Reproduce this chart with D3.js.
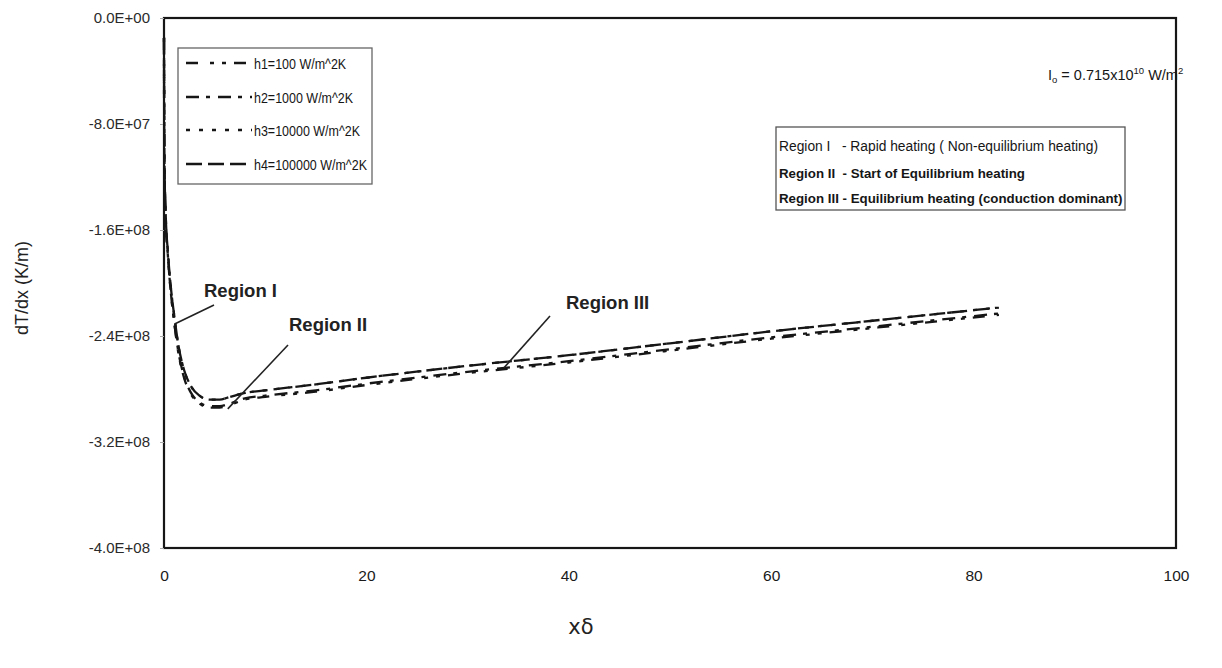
<!DOCTYPE html>
<html>
<head>
<meta charset="utf-8">
<script src="https://cdn.jsdelivr.net/npm/d3@7"></script>
<style>
  html, body { margin: 0; padding: 0; background: #fff; }
  svg { display: block; font-family: Arial, "Liberation Sans", sans-serif; }
</style>
</head>
<body>
<svg id="chart" width="1222" height="668"></svg>
<script>
// Sampling positions along the depth axis (xδ)
const xs = [0, 0.02, 0.05, 0.15, 0.4, 0.7, 1.0, 1.4, 2.0, 2.6, 3.5, 4.5, 5.5, 6.5, 8, 10, 15, 20, 30, 40, 50, 60, 70, 82.5];

// Temperature gradient dT/dx (K/m) for each convection coefficient
const h1 = [-1.5e7, -8.0e7, -1.12e8, -1.46e8, -1.81e8, -2.09e8, -2.29e8, -2.52e8, -2.72e8, -2.83e8, -2.91e8, -2.94e8, -2.94e8, -2.92e8, -2.88e8, -2.86e8, -2.82e8, -2.77e8, -2.68e8, -2.60e8, -2.51e8, -2.42e8, -2.34e8, -2.24e8];
const h2 = [-1.5e7, -8.0e7, -1.12e8, -1.46e8, -1.81e8, -2.09e8, -2.29e8, -2.51e8, -2.71e8, -2.82e8, -2.90e8, -2.93e8, -2.93e8, -2.91e8, -2.87e8, -2.85e8, -2.81e8, -2.76e8, -2.67e8, -2.59e8, -2.50e8, -2.41e8, -2.33e8, -2.23e8];
const h3 = [-1.5e7, -7.8e7, -1.10e8, -1.44e8, -1.78e8, -2.05e8, -2.24e8, -2.46e8, -2.66e8, -2.77e8, -2.85e8, -2.88e8, -2.88e8, -2.86e8, -2.83e8, -2.81e8, -2.765e8, -2.715e8, -2.625e8, -2.545e8, -2.455e8, -2.365e8, -2.285e8, -2.185e8];
const h4 = [-1.5e7, -7.8e7, -1.10e8, -1.44e8, -1.78e8, -2.05e8, -2.24e8, -2.46e8, -2.66e8, -2.77e8, -2.85e8, -2.88e8, -2.88e8, -2.86e8, -2.83e8, -2.81e8, -2.765e8, -2.715e8, -2.625e8, -2.545e8, -2.455e8, -2.365e8, -2.285e8, -2.185e8];

const seriesNames = ["h1=100 W/m^2K", "h2=1000 W/m^2K", "h3=10000 W/m^2K", "h4=100000 W/m^2K"];
const seriesDash = ["12,12,4,8,4,8", "13,7,4,8", "4,9", "16,6"];

const xTicks = [0, 20, 40, 60, 80, 100];
const yTicks = [0, -8e7, -1.6e8, -2.4e8, -3.2e8, -4.0e8];
const yTickLabels = ["0.0E+00", "-8.0E+07", "-1.6E+08", "-2.4E+08", "-3.2E+08", "-4.0E+08"];

const regionLines = [
  "Region I   - Rapid heating ( Non-equilibrium heating)",
  "Region II  - Start of Equilibrium heating",
  "Region III - Equilibrium heating (conduction dominant)"
];

// Callouts: label anchor and the point on the curve the leader points to
const callouts = [
  { text: "Region I",   lx: 204, ly: 290, from: [214, 305], at: [1.05, -2.31e8] },
  { text: "Region II",  lx: 289, ly: 324, from: [288, 345], at: [6.3, -2.95e8] },
  { text: "Region III", lx: 566, ly: 302, from: [550, 316], at: [33.6, -2.64e8] }
];

const svg = d3.select("#chart");
const ink = "#161616";

const plotL = 164, plotR = 1176, plotT = 18, plotB = 548;

const x = d3.scaleLinear().domain([0, 100]).range([plotL, plotR]);
const y = d3.scaleLinear().domain([-4e8, 0]).range([plotB, plotT]);

// Plot frame
svg.append("rect")
  .attr("x", plotL).attr("y", plotT)
  .attr("width", plotR - plotL).attr("height", plotB - plotT)
  .attr("fill", "none").attr("stroke", ink).attr("stroke-width", 2.2);

// Y axis
const yAxis = d3.axisLeft(y).tickValues(yTicks).tickSize(4)
  .tickFormat((d, i) => yTickLabels[i]);
const gy = svg.append("g").attr("transform", `translate(${plotL},0)`).call(yAxis);
gy.select(".domain").remove();
gy.selectAll(".tick line").attr("stroke", "#aaa");
gy.selectAll(".tick text").attr("x", -14).attr("fill", "#2a2a2a")
  .style("font-size", "15px").style("font-family", "Arial, 'Liberation Sans', sans-serif");

// X axis
const xAxis = d3.axisBottom(x).tickValues(xTicks).tickSize(0).tickFormat(d3.format("d"));
const gx = svg.append("g").attr("transform", `translate(0,${plotB})`).call(xAxis);
gx.select(".domain").remove();
gx.selectAll(".tick text").attr("y", 22).attr("fill", "#1a1a1a")
  .style("font-size", "15.5px").style("font-family", "Arial, 'Liberation Sans', sans-serif");

// Axis titles
svg.append("text")
  .attr("transform", `translate(28,${(plotT + plotB) / 2 + 5}) rotate(-90)`)
  .attr("text-anchor", "middle").attr("fill", "#222")
  .style("font-size", "18px").text("dT/dx (K/m)");

svg.append("text")
  .attr("x", 581).attr("y", 634).attr("text-anchor", "middle").attr("fill", "#222")
  .style("font-size", "21px").style("font-family", "'DejaVu Sans', sans-serif").text("xδ");

// Curves
const allSeries = [h1, h2, h3, h4];
const line = d3.line().x((d, i) => x(xs[i])).y(d => y(d)).curve(d3.curveMonotoneX);
allSeries.forEach((vals, k) => {
  svg.append("path")
    .datum(vals)
    .attr("d", line)
    .attr("fill", "none")
    .attr("stroke", ink)
    .attr("stroke-width", 2.3)
    .attr("stroke-dasharray", seriesDash[k]);
});

// Legend
const lg = svg.append("g");
lg.append("rect").attr("x", 178).attr("y", 48).attr("width", 194).attr("height", 136)
  .attr("fill", "#fff").attr("stroke", "#666").attr("stroke-width", 1.3);
const rowY = [63, 97, 130, 164];
seriesNames.forEach((name, k) => {
  lg.append("line")
    .attr("x1", 186).attr("x2", 252).attr("y1", rowY[k]).attr("y2", rowY[k])
    .attr("stroke", ink).attr("stroke-width", 2.6).attr("stroke-dasharray", seriesDash[k]);
  const t = lg.append("text").attr("x", 254).attr("y", rowY[k] + 5.5).attr("fill", "#161616")
    .style("font-size", "14.5px").text(name);
  // slightly condensed lettering, as in the printed legend
  const w = t.node().getComputedTextLength();
  t.attr("textLength", w * 0.86).attr("lengthAdjust", "spacingAndGlyphs");
});

// Intensity note
const note = svg.append("text").attr("x", 1048).attr("y", 80).attr("fill", "#161616").style("font-size", "14.5px");
note.append("tspan").text("I");
note.append("tspan").attr("dy", 3).style("font-size", "9.5px").text("o");
note.append("tspan").attr("dy", -3).text(" = 0.715x10");
note.append("tspan").attr("dy", -6).style("font-size", "9.5px").text("10");
note.append("tspan").attr("dy", 6).text(" W/m");
note.append("tspan").attr("dy", -6).style("font-size", "9.5px").text("2");

// Region description box
const rb = svg.append("g");
rb.append("rect").attr("x", 776).attr("y", 127).attr("width", 349).attr("height", 83)
  .attr("fill", "#fff").attr("stroke", "#555").attr("stroke-width", 1.3);
const regionY = [151, 178, 203];
regionLines.forEach((t, k) => {
  rb.append("text").attr("x", 779).attr("y", regionY[k]).attr("fill", "#161616")
    .attr("xml:space", "preserve").style("white-space", "pre")
    .style("font-size", k === 0 ? "13.8px" : "13.3px")
    .style("font-weight", k === 0 ? "normal" : "bold").text(t);
});

// Region callouts
callouts.forEach(c => {
  svg.append("line")
    .attr("x1", c.from[0]).attr("y1", c.from[1])
    .attr("x2", x(c.at[0])).attr("y2", y(c.at[1]))
    .attr("stroke", "#222").attr("stroke-width", 1.6);
  svg.append("text").attr("x", c.lx).attr("y", c.ly + 6.5).attr("fill", "#222")
    .style("font-size", "18.5px").style("font-weight", "bold").text(c.text);
});
</script>
</body>
</html>
